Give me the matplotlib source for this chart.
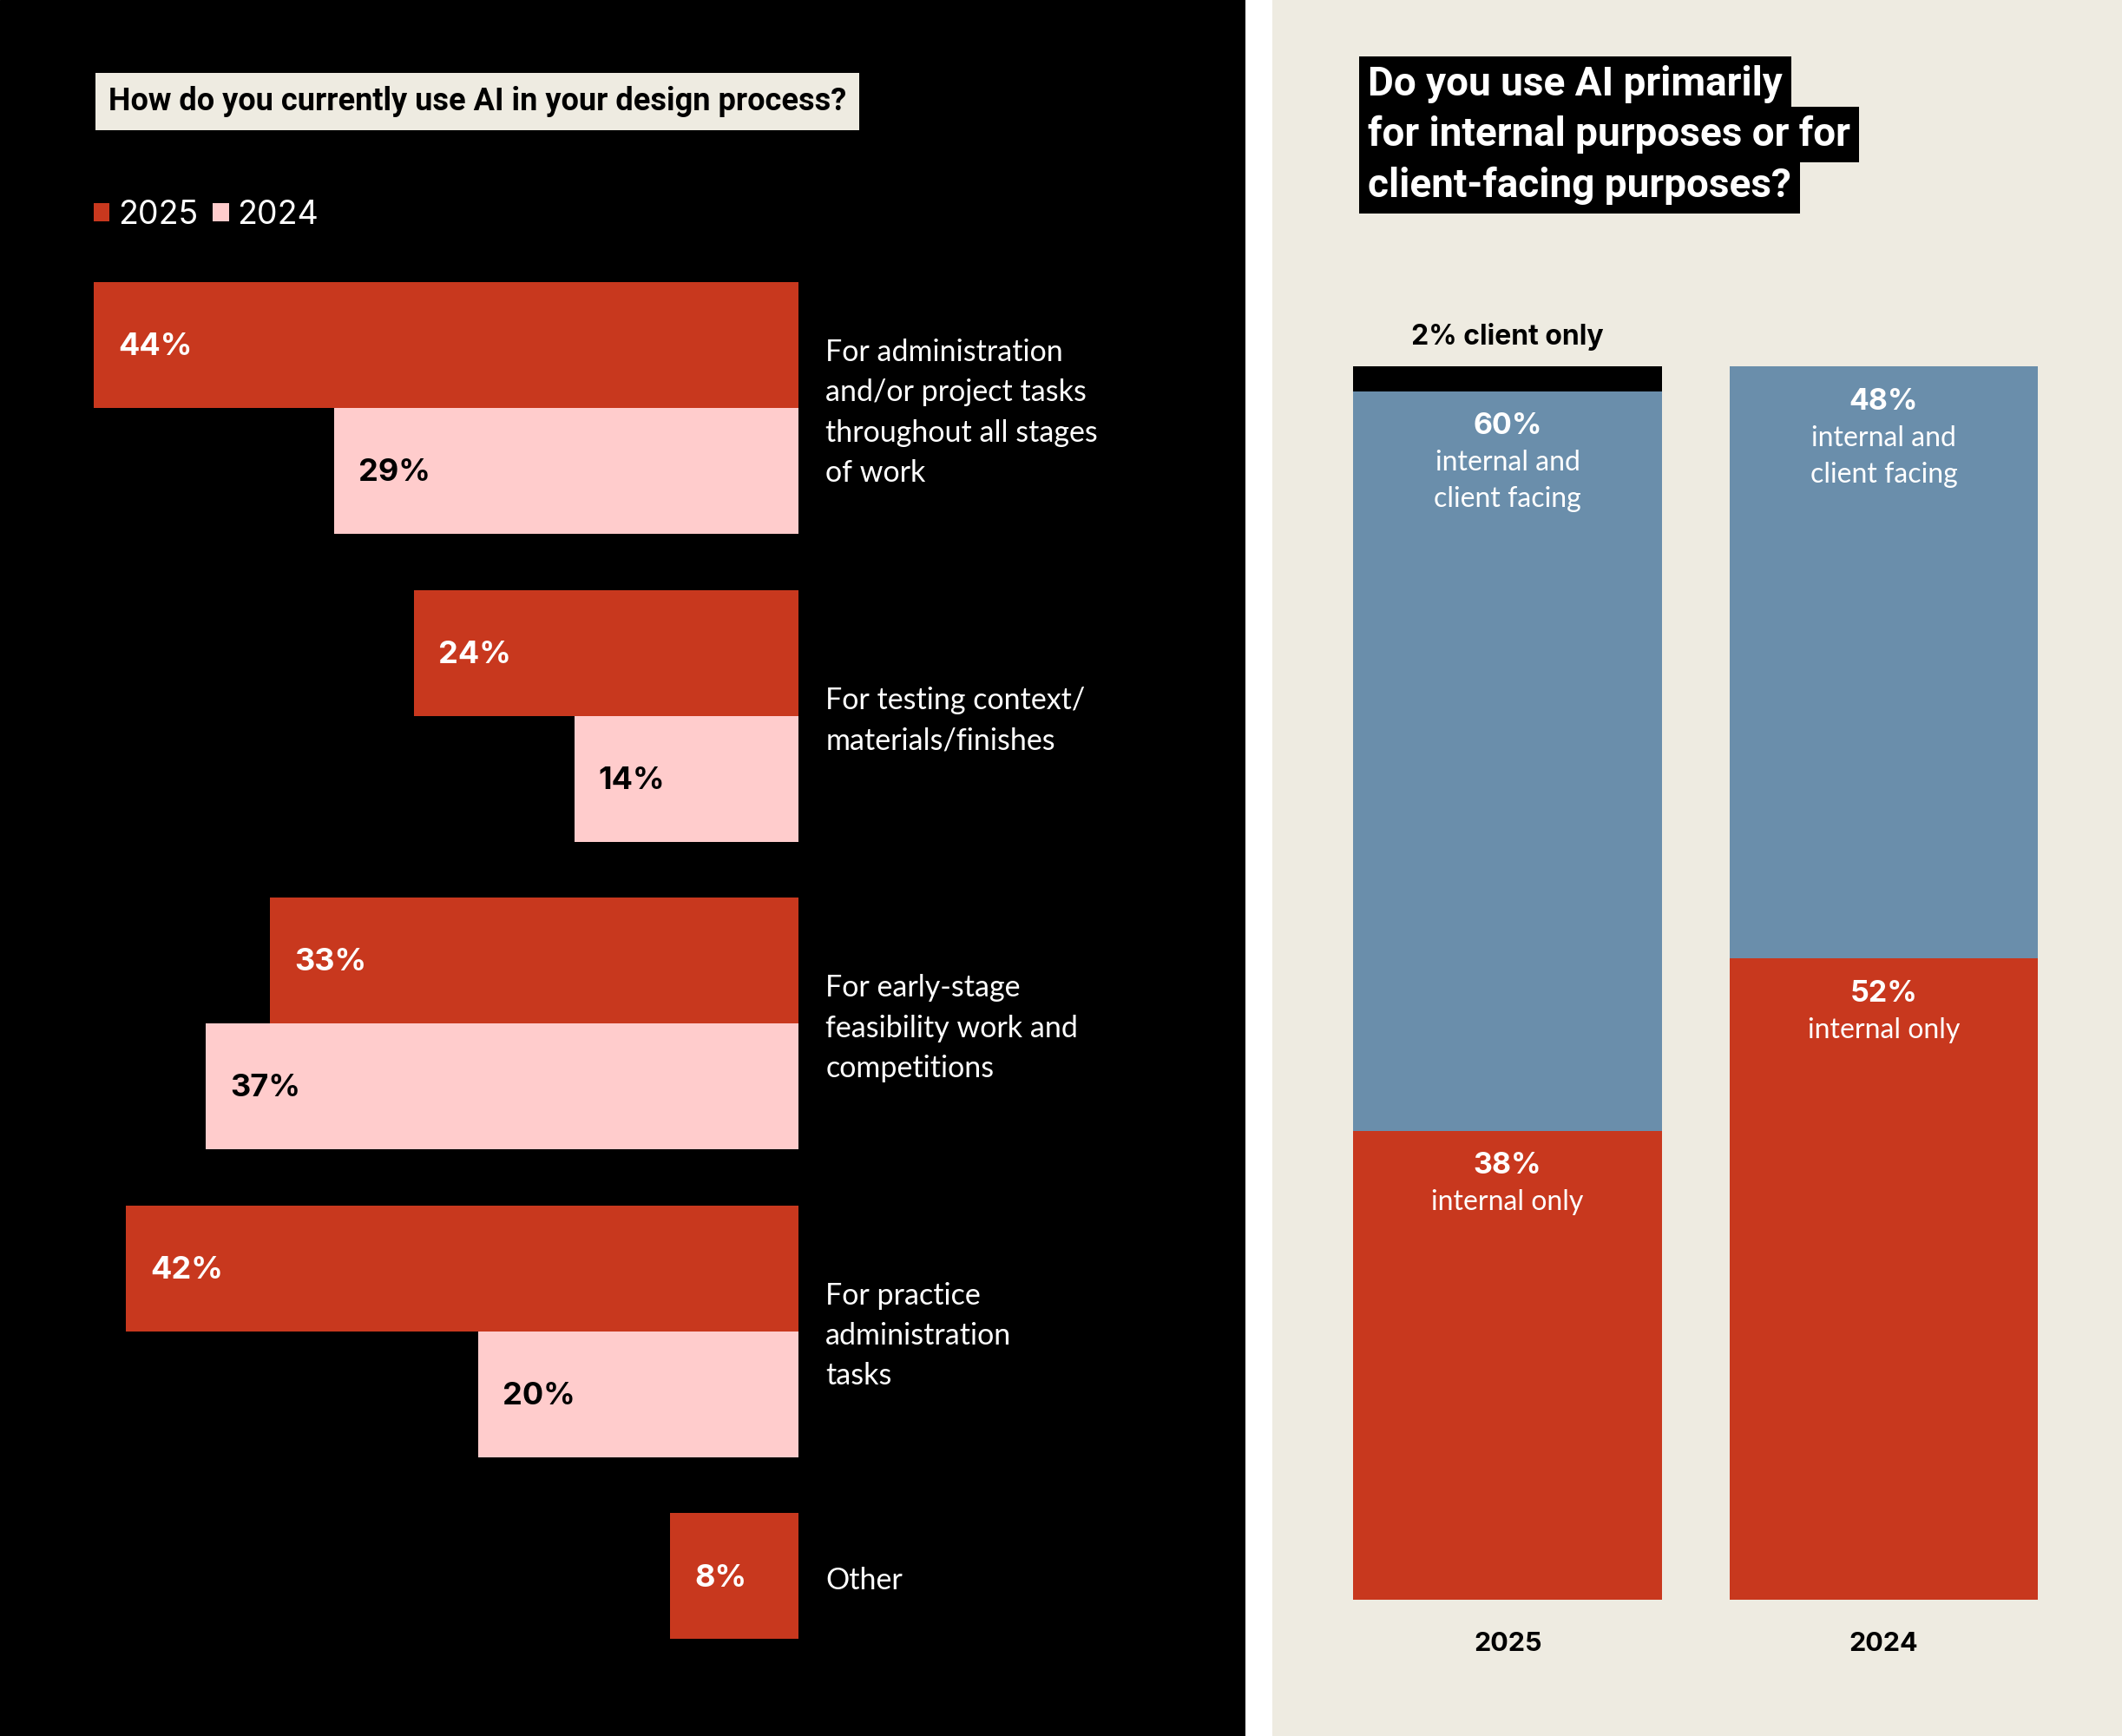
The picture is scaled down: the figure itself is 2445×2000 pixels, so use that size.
"""
AI use in design practice: grouped horizontal bars (left) and stacked columns (right).
"""

import matplotlib.pyplot as plt
from matplotlib.patches import Patch

RED = "#C8381E"
PINK = "#FFCCCC"
BLUE = "#6A8EAB"
BEIGE = "#EEEBE1"
BLACK = "#000000"

# left chart data
categories = [
    "For administration\nand/or project tasks\nthroughout all stages\nof work",
    "For testing context/\nmaterials/finishes",
    "For early-stage\nfeasibility work and\ncompetitions",
    "For practice\nadministration\ntasks",
    "Other",
]
pct_2025 = [44, 24, 33, 42, 8]
pct_2024 = [29, 14, 37, 20]  # no 2024 value for "Other"

# right chart data
years = ["2025", "2024"]
internal_only = [38, 52]
internal_client = [60, 48]
client_only = [2, 0]

fig = plt.figure(figsize=(24.45, 20), dpi=100)
fig.patch.set_facecolor("white")

# ---------------- left panel ----------------
ax = fig.add_axes([0, 0, 0.5868, 1])
ax.set_xlim(49.86, -27.9)
ax.set_ylim(4.519, -1.121)
ax.axis("off")
ax.add_patch(plt.Rectangle((0, 0), 1, 1, transform=ax.transAxes, color=BLACK, zorder=0))

h = 0.409
for i, cat in enumerate(categories):
    ax.barh(i, pct_2025[i], height=h, color=RED, align="center", zorder=2)
    ax.annotate(f"{pct_2025[i]}%", (pct_2025[i], i), xytext=(20, -1.5),
                textcoords="offset points", ha="left", va="center",
                color="white", fontsize=26, fontweight="bold", family="Inter")
    centers = [i]
    if i < len(pct_2024):
        ax.barh(i + h, pct_2024[i], height=h, color=PINK, align="center", zorder=2)
        ax.annotate(f"{pct_2024[i]}%", (pct_2024[i], i + h), xytext=(20, -1.5),
                    textcoords="offset points", ha="left", va="center",
                    color=BLACK, fontsize=26, fontweight="bold", family="Inter")
        centers.append(i + h)
    ax.text(-1.69, sum(centers) / len(centers) + 0.015, cat, ha="left", va="center",
            color="white", fontsize=24.5, family="Lato", linespacing=1.55)

fig.text(80 / 1568, 1 - 75 / 1283, "How do you currently use AI in your design process?",
         ha="left", va="center", fontsize=26, fontweight="bold", family="Roboto",
         color=BLACK,
         bbox=dict(boxstyle="square,pad=0.42", facecolor=BEIGE, edgecolor="none"))

handles = [Patch(facecolor=RED, label="2025"), Patch(facecolor=PINK, label="2024")]
fig.legend(handles=handles, loc="center left", bbox_to_anchor=(69 / 1568, 1 - 159 / 1283),
           ncol=2, frameon=False, handlelength=0.5, handleheight=0.5,
           handletextpad=0.25, columnspacing=0.45, borderpad=0, borderaxespad=0,
           labelcolor="white", prop={"family": "Inter", "size": 27})

# ---------------- right panel ----------------
ax2 = fig.add_axes([0.5995, 0, 0.4005, 1])
ax2.set_xlim(-0.626, 1.633)
ax2.set_ylim(-11.09, 129.75)
ax2.axis("off")
ax2.add_patch(plt.Rectangle((0, 0), 1, 1, transform=ax2.transAxes, color=BEIGE, zorder=0))

x = range(len(years))
w = 0.82
bottom_blue = internal_only
bottom_black = [a + b for a, b in zip(internal_only, internal_client)]
ax2.bar(x, internal_only, width=w, color=RED, zorder=2)
ax2.bar(x, internal_client, width=w, bottom=bottom_blue, color=BLUE, zorder=2)
ax2.bar(x, client_only, width=w, bottom=bottom_black, color=BLACK, zorder=2)


def seg_label(xi, top, value, desc):
    ax2.text(xi, top - 2.85, f"{value}%", ha="center", va="center", color="white",
             fontsize=24.5, fontweight="bold", family="Inter", zorder=3)
    for k, line in enumerate(desc.split("\n")):
        ax2.text(xi, top - 2.85 - 2.96 * (k + 1), line, ha="center", va="center",
                 color="white", fontsize=23, family="Lato", zorder=3)


for xi in x:
    seg_label(xi, internal_only[xi], internal_only[xi], "internal only")
    seg_label(xi, bottom_black[xi], internal_client[xi], "internal and\nclient facing")
    if client_only[xi]:
        ax2.text(xi, bottom_black[xi] + client_only[xi] + 2.4,
                 f"{client_only[xi]}% client only", ha="center", va="center",
                 color=BLACK, fontsize=23, fontweight="bold", family="Inter")
    ax2.text(xi, -3.62, years[xi], ha="center", va="center", color=BLACK,
             fontsize=22, fontweight="bold", family="Inter")

title_lines = ["Do you use AI primarily", "for internal purposes or for",
               "client-facing purposes?"]
for k, line in enumerate(title_lines):
    fig.text(1011 / 1568, 1 - (62 + 37.5 * k) / 1283, line, ha="left", va="center",
             color="white", fontsize=33, fontweight="bold", family="Roboto",
             bbox=dict(boxstyle="square,pad=0.22", facecolor=BLACK, edgecolor="none"))

fig.savefig("out.png", dpi=100, facecolor=fig.get_facecolor())
